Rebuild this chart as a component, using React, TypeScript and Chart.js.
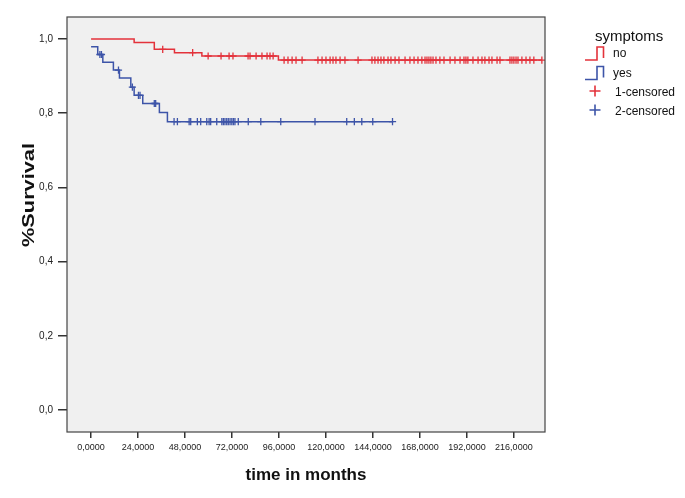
import React, { useEffect, useRef } from "react";
import { Chart, registerables } from "chart.js";

Chart.register(...registerables);

const xTicks = [0, 24, 48, 72, 96, 120, 144, 168, 192, 216];
const yTicks = [0, 0.2, 0.4, 0.6, 0.8, 1.0];

// symptoms = no (red)
const noEventTimes = [0, 22.0, 32.3, 42.6, 56.6, 95.7];
const noSurvival = [1.0, 0.99, 0.972, 0.963, 0.954, 0.943];
const noEndTime = 230.3;
const noCensored = [
  36.6, 51.9, 59.8, 66.4, 70.5, 72.5, 80.2, 81.2, 84.3, 87.3, 89.9, 91.4, 93.0,
  98.6, 100.6, 102.7, 104.7, 107.8, 115.9, 118.0, 120.0, 122.1, 123.6, 125.1, 127.2,
  129.7, 136.4, 143.5, 145.0, 146.6, 148.1, 149.6, 151.7, 153.2, 155.3, 157.3, 160.4,
  162.9, 165.0, 167.0, 169.0, 170.6, 171.6, 172.6, 173.6, 174.7, 176.2, 178.2, 180.3,
  183.4, 185.9, 188.5, 190.5, 191.5, 192.5, 195.1, 197.7, 199.7, 201.2, 203.3, 204.8,
  207.4, 208.9, 214.0, 215.0, 216.0, 217.1, 218.1, 220.1, 222.2, 224.2, 226.2, 230.3,
];

// symptoms = yes (blue)
const yesEventTimes = [0, 3.4, 6.0, 11.4, 14.5, 20.3, 22.0, 26.4, 34.9, 39.0];
const yesSurvival = [0.979, 0.958, 0.937, 0.916, 0.895, 0.87, 0.848, 0.826, 0.802, 0.777];
const yesEndTime = 154.4;
const yesCensored = [
  4.5, 5.3, 14.0, 21.1, 24.2, 25.0, 32.3, 33.0, 42.4, 44.1, 50.1, 50.9, 54.3, 56.0,
  59.1, 60.3, 61.1, 64.2, 66.8, 67.6, 68.4, 69.3, 70.1, 71.0, 71.9, 72.7, 73.5, 75.2,
  80.3, 86.7, 96.9, 114.4, 130.6, 134.5, 138.3, 143.9, 154.0,
];

const RED = "#e3323b";
const BLUE = "#3d54a8";

function stepData(times: number[], surv: number[], end: number) {
  const pts = times.map((t, i) => ({ x: t, y: surv[i] }));
  pts.push({ x: end, y: surv[surv.length - 1] });
  return pts;
}

function levelAt(times: number[], surv: number[], t: number) {
  let s = surv[0];
  for (let i = 0; i < times.length; i++) if (times[i] <= t) s = surv[i];
  return s;
}

const decor = {
  id: "decor",
  beforeDraw(chart: any) {
    const { ctx, chartArea: a } = chart;
    ctx.save();
    ctx.fillStyle = "#f0f0f0";
    ctx.fillRect(a.left, a.top, a.right - a.left, a.bottom - a.top);
    ctx.restore();
  },
  afterDraw(chart: any) {
    const { ctx, chartArea: a } = chart;
    ctx.save();
    ctx.strokeStyle = "#444";
    ctx.lineWidth = 1.2;
    ctx.strokeRect(a.left, a.top, a.right - a.left, a.bottom - a.top);

    // axis titles
    ctx.fillStyle = "#111";
    ctx.font = "bold 17px 'Liberation Sans', Arial, sans-serif";
    ctx.textAlign = "center";
    ctx.textBaseline = "alphabetic";
    ctx.fillText("time in months", (a.left + a.right) / 2, 480);

    ctx.save();
    ctx.translate(33.5, 195);
    ctx.rotate(-Math.PI / 2);
    const w = ctx.measureText("%Survival").width;
    ctx.scale(104 / w, 1);
    ctx.fillText("%Survival", 0, 0);
    ctx.restore();

    // legend
    ctx.textAlign = "left";
    ctx.fillStyle = "#111";
    ctx.font = "15px 'Liberation Sans', Arial, sans-serif";
    ctx.fillText("symptoms", 595, 41);
    ctx.font = "12px 'Liberation Sans', Arial, sans-serif";
    ctx.fillText("no", 613, 57);
    ctx.fillText("yes", 613, 76.5);
    ctx.fillText("1-censored", 615, 95.5);
    ctx.fillText("2-censored", 615, 114.5);

    const stepIcon = (top: number, color: string) => {
      ctx.strokeStyle = color;
      ctx.lineWidth = 1.6;
      ctx.beginPath();
      ctx.moveTo(585, top + 13);
      ctx.lineTo(597, top + 13);
      ctx.lineTo(597, top);
      ctx.lineTo(603.5, top);
      ctx.lineTo(603.5, top + 11);
      ctx.stroke();
    };
    stepIcon(47, RED);
    stepIcon(66.5, BLUE);

    const cross = (cx: number, cy: number, color: string) => {
      ctx.strokeStyle = color;
      ctx.lineWidth = 1.6;
      ctx.beginPath();
      ctx.moveTo(cx - 5.5, cy);
      ctx.lineTo(cx + 5.5, cy);
      ctx.moveTo(cx, cy - 5.5);
      ctx.lineTo(cx, cy + 5.5);
      ctx.stroke();
    };
    cross(595, 91, RED);
    cross(595, 110, BLUE);
    ctx.restore();
  },
};

export default function App() {
  const ref = useRef<HTMLCanvasElement | null>(null);

  useEffect(() => {
    if (!ref.current) return;
    const chart = new Chart(ref.current, {
      type: "line",
      data: {
        datasets: [
          {
            label: "no",
            data: stepData(noEventTimes, noSurvival, noEndTime),
            borderColor: RED,
            borderWidth: 1.5,
            stepped: "before",
            pointRadius: 0,
            fill: false,
          },
          {
            label: "yes",
            data: stepData(yesEventTimes, yesSurvival, yesEndTime),
            borderColor: BLUE,
            borderWidth: 1.5,
            stepped: "before",
            pointRadius: 0,
            fill: false,
          },
          {
            label: "1-censored",
            data: noCensored.map((t) => ({ x: t, y: levelAt(noEventTimes, noSurvival, t) })),
            showLine: false,
            pointStyle: "cross",
            pointRadius: 3.6,
            pointBorderColor: RED,
            pointBorderWidth: 1.3,
            borderColor: RED,
          },
          {
            label: "2-censored",
            data: yesCensored.map((t) => ({ x: t, y: levelAt(yesEventTimes, yesSurvival, t) })),
            showLine: false,
            pointStyle: "cross",
            pointRadius: 3.6,
            pointBorderColor: BLUE,
            pointBorderWidth: 1.3,
            borderColor: BLUE,
          },
        ],
      },
      options: {
        animation: false,
        responsive: false,
        devicePixelRatio: 1,
        layout: { padding: { top: 17, right: 140, left: 0, bottom: 0 } },
        plugins: {
          legend: { display: false },
          tooltip: { enabled: false },
        },
        scales: {
          x: {
            type: "linear",
            min: -12.3,
            max: 231.9,
            afterBuildTicks: (s: any) => {
              s.ticks = xTicks.map((v) => ({ value: v }));
            },
            afterFit: (s: any) => {
              s.height = 66;
            },
            ticks: {
              color: "#222",
              font: { family: "'Liberation Sans', Arial, sans-serif", size: 9 },
              padding: 4,
              maxRotation: 0,
              autoSkip: false,
              callback: (v: any) => Number(v).toFixed(4).replace(".", ","),
            },
            grid: {
              drawOnChartArea: false,
              drawTicks: true,
              tickLength: 6,
              color: "#333",
              lineWidth: 1.5,
            },
            border: { display: false },
          },
          y: {
            type: "linear",
            min: -0.059,
            max: 1.059,
            afterBuildTicks: (s: any) => {
              s.ticks = yTicks.map((v) => ({ value: v }));
            },
            afterFit: (s: any) => {
              s.width = 67;
            },
            ticks: {
              color: "#222",
              font: { family: "'Liberation Sans', Arial, sans-serif", size: 10 },
              padding: 5,
              autoSkip: false,
              callback: (v: any) => Number(v).toFixed(1).replace(".", ","),
            },
            grid: {
              drawOnChartArea: false,
              drawTicks: true,
              tickLength: 9,
              color: "#333",
              lineWidth: 1.5,
            },
            border: { display: false },
          },
        },
      },
      plugins: [decor],
    });
    return () => chart.destroy();
  }, []);

  return (
    <div style={{ position: "absolute", left: 0, top: 0, width: 685, height: 498, background: "#fff" }}>
      <canvas ref={ref} width={685} height={498} style={{ width: 685, height: 498, display: "block" }} />
    </div>
  );
}
